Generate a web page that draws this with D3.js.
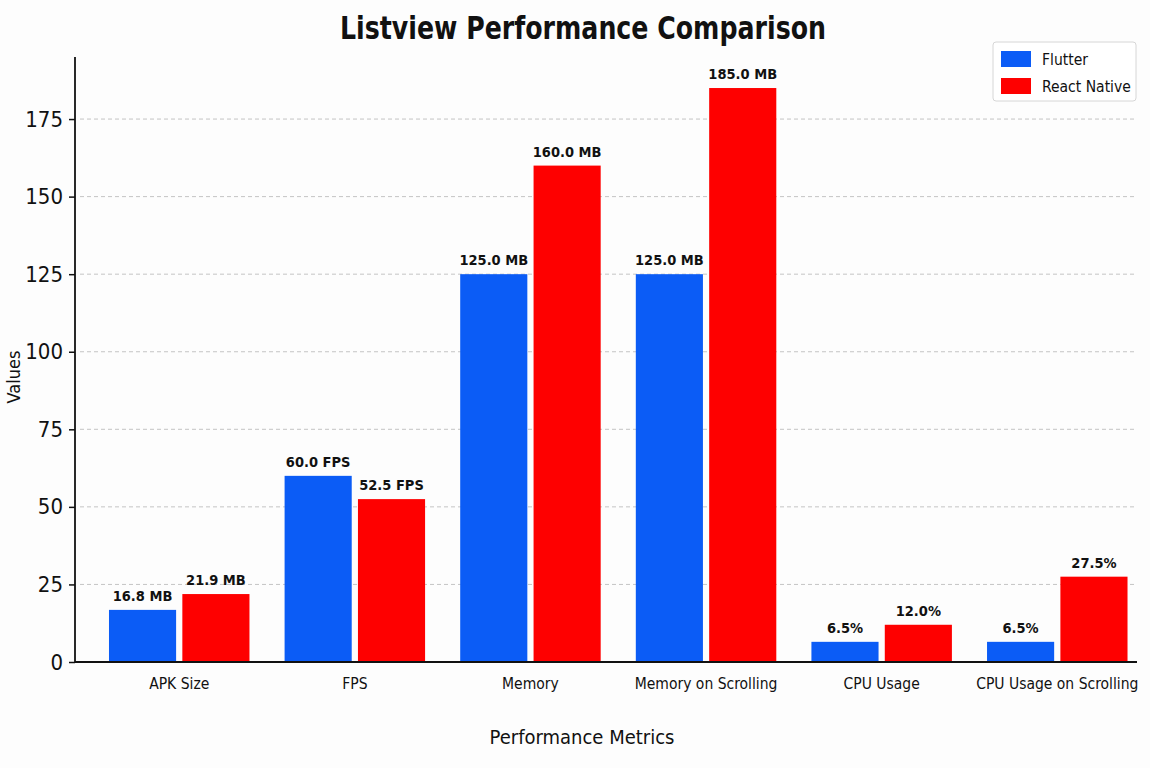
<!DOCTYPE html>
<html><head><meta charset="utf-8">
<script src="https://cdn.jsdelivr.net/npm/d3@7"></script>
<style>
body{margin:0;background:#fdfdfd;}
text{font-family:"DejaVu Sans Condensed","Liberation Sans Narrow",Roboto,sans-serif;}
</style></head>
<body><svg id="chart" width="1150" height="768"></svg>
<script>
const categories = ["APK Size","FPS","Memory","Memory on Scrolling","CPU Usage","CPU Usage on Scrolling"];
const seriesNames = ["Flutter","React Native"];
const flutterValues = [16.8, 60.0, 125.0, 125.0, 6.5, 6.5];
const reactNativeValues = [21.9, 52.5, 160.0, 185.0, 12.0, 27.5];
const units = ["MB","FPS","MB","MB","%","%"];
const yTicks = [0,25,50,75,100,125,150,175];
const colors = ["#0b5cf6","#fe0000"];

const FF = '"DejaVu Sans Condensed","Liberation Sans Narrow",Roboto,sans-serif';
const svg = d3.select("#chart");
const W = 1150, H = 768;
const m = {left:75, right:13, top:57, bottom:106};
const x0 = d3.scaleBand().domain(categories).range([99.5, 1137]).paddingInner(0.2).paddingOuter(0.054);
const x1 = d3.scaleBand().domain(seriesNames).range([0, x0.bandwidth()]).paddingInner(0.085);
const y = d3.scaleLinear().domain([0,195]).range([H-m.bottom, m.top]);

const fmt = (v,u) => u==="%" ? v.toFixed(1)+"%" : v.toFixed(1)+" "+u;

// grid
svg.append("g").selectAll("line").data(yTicks.filter(t=>t>0)).join("line")
  .attr("x1", m.left+5).attr("x2", W-m.right).attr("y1", d=>y(d)).attr("y2", d=>y(d))
  .attr("stroke","#c4c4c4").attr("stroke-width",1).attr("stroke-dasharray","4,3");

// title
svg.append("text").attr("x",583).attr("y",39).attr("text-anchor","middle")
  .attr("font-size",32).attr("font-weight","bold").attr("fill","#111")
  .attr("textLength",486).attr("lengthAdjust","spacingAndGlyphs")
  .text("Listview Performance Comparison");

// bars
const rows = i => [{s:"Flutter",v:flutterValues[i],u:units[i]},{s:"React Native",v:reactNativeValues[i],u:units[i]}];
const groups = svg.append("g").selectAll("g").data(categories).join("g")
  .attr("transform", d=>`translate(${x0(d)},0)`);
groups.selectAll("rect").data((d,i)=>rows(i))
  .join("rect")
  .attr("x", d=>x1(d.s)).attr("width", x1.bandwidth())
  .attr("y", d=>y(d.v)).attr("height", d=>y(0)-y(d.v))
  .attr("fill", d=>colors[seriesNames.indexOf(d.s)]);
groups.selectAll("text").data((d,i)=>rows(i))
  .join("text")
  .attr("x", d=>x1(d.s)+x1.bandwidth()/2).attr("y", d=>y(d.v)-9)
  .attr("text-anchor","middle").attr("font-size",14.5).attr("font-weight","bold").attr("fill","#111")
  .text(d=>fmt(d.v,d.u));

// y axis
const yAxis = d3.axisLeft(y).tickValues(yTicks).tickSize(6).tickPadding(6);
const gy = svg.append("g").attr("transform",`translate(${m.left},0)`).call(yAxis);
gy.select(".domain").remove();
gy.selectAll("text").attr("font-size",22).attr("fill","#111").style("font-family",FF);
gy.selectAll(".tick line").attr("stroke","#111").attr("stroke-width",1.5);
svg.append("line").attr("x1",m.left).attr("x2",m.left).attr("y1",m.top).attr("y2",y(0)+1)
  .attr("stroke","#111").attr("stroke-width",1.8);

// x axis
const xAxis = d3.axisBottom(x0).tickSize(0).tickPadding(16);
const gx = svg.append("g").attr("transform",`translate(0,${y(0)})`).call(xAxis);
gx.select(".domain").remove();
gx.selectAll("text").attr("font-size",15.5).attr("fill","#111").style("font-family",FF);
svg.append("line").attr("x1",m.left).attr("x2",W-m.right).attr("y1",y(0)).attr("y2",y(0))
  .attr("stroke","#111").attr("stroke-width",2);

// axis labels
svg.append("text").attr("x",582).attr("y",744).attr("text-anchor","middle")
  .attr("font-size",20).attr("fill","#111").text("Performance Metrics");
svg.append("text").attr("transform","translate(20,377) rotate(-90)").attr("text-anchor","middle")
  .attr("font-size",18).attr("fill","#111").text("Values");

// legend
const lg = svg.append("g").attr("transform","translate(993,42)");
lg.append("rect").attr("width",143).attr("height",59).attr("rx",3).attr("fill","#fff").attr("stroke","#d6d6d6");
seriesNames.forEach((s,i)=>{
  lg.append("rect").attr("x",8).attr("y",9+i*27).attr("width",30).attr("height",16).attr("fill",colors[i]);
  lg.append("text").attr("x",49).attr("y",23+i*27).attr("font-size",15.5).attr("fill","#111").text(s);
});
</script></body></html>
